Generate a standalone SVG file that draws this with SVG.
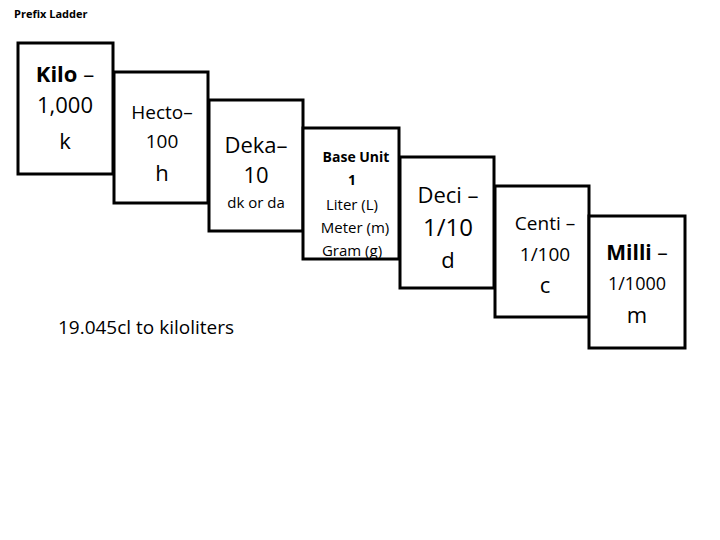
<svg xmlns="http://www.w3.org/2000/svg" width="720" height="540" viewBox="0 0 720 540">
<style>
rect.b{fill:#fff;stroke:#000;stroke-width:3}
text{font-family:"Open Sans","Liberation Sans",sans-serif;fill:#000;text-anchor:middle}
.bold{font-weight:bold}
</style>
<rect width="720" height="540" fill="#fff"/>
<text x="14" y="18" style="text-anchor:start;font-size:11px;font-weight:bold">Prefix Ladder</text>
<g id="kilo"><rect class="b" x="18" y="43" width="95" height="131"/>
<text x="65" y="82" font-size="22"><tspan class="bold">Kilo</tspan> –</text>
<text x="65" y="113" font-size="22">1,000</text>
<text x="65" y="149" font-size="22">k</text></g>
<g id="hecto"><rect class="b" x="114" y="72" width="94" height="131"/>
<text x="162" y="119" font-size="19">Hecto–</text>
<text x="162" y="148" font-size="19">100</text>
<text x="162" y="181" font-size="22">h</text></g>
<g id="deka"><rect class="b" x="209" y="100" width="94" height="131"/>
<text x="256" y="153" font-size="22">Deka–</text>
<text x="256" y="183" font-size="22">10</text>
<text x="256" y="208" font-size="15">dk or da</text></g>
<g id="base"><rect class="b" x="303" y="128" width="96" height="131"/>
<text x="356" y="162" font-size="14" class="bold">Base Unit</text>
<text x="352" y="185" font-size="14" class="bold">1</text>
<text x="352" y="210" font-size="15">Liter (L)</text>
<text x="355" y="233" font-size="15">Meter (m)</text>
<text x="352" y="256" font-size="15">Gram (g)</text></g>
<g id="deci"><rect class="b" x="400" y="157" width="94" height="131"/>
<text x="448" y="203" font-size="22">Deci –</text>
<text x="448" y="236" font-size="24">1/10</text>
<text x="448" y="268" font-size="22">d</text></g>
<g id="centi"><rect class="b" x="495" y="186" width="94" height="131"/>
<text x="545" y="230" font-size="19">Centi –</text>
<text x="545" y="261" font-size="19">1/100</text>
<text x="545" y="293" font-size="22">c</text></g>
<g id="milli"><rect class="b" x="589" y="216" width="96" height="132"/>
<text x="637" y="260" font-size="21"><tspan class="bold">Milli</tspan> –</text>
<text x="637" y="290" font-size="18">1/1000</text>
<text x="637" y="323" font-size="22">m</text></g>
<g id="connectors"></g>
<text x="146" y="334" font-size="19">19.045cl to kiloliters</text>
</svg>
